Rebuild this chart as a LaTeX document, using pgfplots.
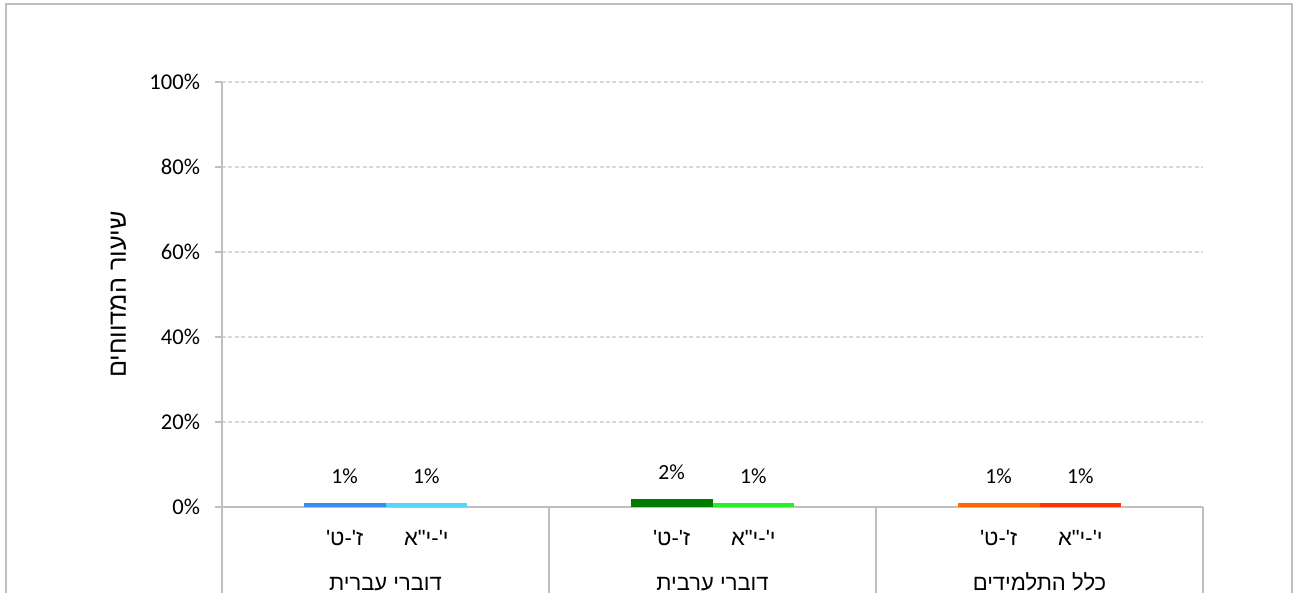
\documentclass[border=0pt]{standalone}
\usepackage{pgfplots}
\pgfplotsset{compat=1.18}
\usepackage{fontspec}
\setmainfont{Carlito}
\newfontfamily\heb[Script=Hebrew]{Liberation Sans}
\TeXXeTstate=1
\definecolor{cA}{HTML}{3B8CF0}
\definecolor{cB}{HTML}{55D6F7}
\definecolor{cC}{HTML}{007A00}
\definecolor{cD}{HTML}{2AEE2A}
\definecolor{cE}{HTML}{FF6A00}
\definecolor{cF}{HTML}{FF3300}
\definecolor{axisgray}{HTML}{BFBFBF}
\definecolor{gridgray}{HTML}{D9D9D9}
\tikzset{hebl/.style={font=\heb\fontsize{11}{13}\selectfont, anchor=base}}
\begin{document}
\begin{tikzpicture}
\path[use as bounding box] (0,0) rectangle (646.5pt,-296.5pt);
\draw[axisgray, line width=1pt] (3pt,-296.5pt) -- (3pt,-2pt) -- (646pt,-2pt) -- (646pt,-296.5pt);
\begin{axis}[
  at={(111pt,-253.5pt)}, anchor=south west,
  scale only axis, width=490.5pt, height=212.5pt,
  xmin=0, xmax=3, ymin=0, ymax=100,
  axis x line=bottom, axis y line=left,
  axis line style={draw=axisgray, line width=0.75pt, -},
  ytick={0,20,...,100},
  yticklabel={\pgfmathprintnumber{\tick}\%},
  /pgf/number format/assume math mode=true,
  xtick=\empty,
  ymajorgrids,
  grid style={gridgray, line width=0.6pt, dash pattern=on 2pt off 1.2pt},
  tick align=outside, major tick length=3.5pt,
  y tick style={axisgray, line width=0.75pt},
  ticklabel style={font=\fontsize{11.3}{13}\selectfont},
  yticklabel style={xshift=-4pt},
  clip=false,
  nodes near coords={\pgfmathprintnumber{\pgfplotspointmeta}\%},
  every node near coord/.append style={font=\fontsize{10.8}{12}\selectfont, anchor=south, yshift=6pt},
]
\addplot[ybar, bar width=0.25, bar shift=0pt, fill=cA, draw=none] coordinates {(0.375,1)};
\addplot[ybar, bar width=0.25, bar shift=0pt, fill=cB, draw=none] coordinates {(0.625,1)};
\addplot[ybar, bar width=0.25, bar shift=0pt, fill=cC, draw=none] coordinates {(1.375,2)};
\addplot[ybar, bar width=0.25, bar shift=0pt, fill=cD, draw=none] coordinates {(1.625,1)};
\addplot[ybar, bar width=0.25, bar shift=0pt, fill=cE, draw=none] coordinates {(2.375,1)};
\addplot[ybar, bar width=0.25, bar shift=0pt, fill=cF, draw=none] coordinates {(2.625,1)};
\draw[axisgray, line width=0.75pt] (axis cs:0,0) -- ([yshift=-45pt]axis cs:0,0);
\draw[axisgray, line width=0.75pt] (axis cs:1,0) -- ([yshift=-45pt]axis cs:1,0);
\draw[axisgray, line width=0.75pt] (axis cs:2,0) -- ([yshift=-45pt]axis cs:2,0);
\draw[axisgray, line width=0.75pt] (axis cs:3,0) -- ([yshift=-45pt]axis cs:3,0);
\node[hebl] at ([yshift=-19pt]axis cs:0.375,0) {\beginR ז'-ט'\endR};
\node[hebl] at ([yshift=-19pt]axis cs:0.625,0) {\beginR י'-י"א\endR};
\node[hebl] at ([yshift=-19pt]axis cs:1.375,0) {\beginR ז'-ט'\endR};
\node[hebl] at ([yshift=-19pt]axis cs:1.625,0) {\beginR י'-י"א\endR};
\node[hebl] at ([yshift=-19pt]axis cs:2.375,0) {\beginR ז'-ט'\endR};
\node[hebl] at ([yshift=-19pt]axis cs:2.625,0) {\beginR י'-י"א\endR};
\node[hebl] at ([yshift=-41.5pt]axis cs:0.5,0) {\beginR דוברי עברית\endR};
\node[hebl] at ([yshift=-41.5pt]axis cs:1.5,0) {\beginR דוברי ערבית\endR};
\node[hebl] at ([yshift=-41.5pt]axis cs:2.5,0) {\beginR כלל התלמידים\endR};
\end{axis}
\node[rotate=90, font=\heb\fontsize{12.6}{14}\selectfont] at (59.25pt,-147.25pt) {\beginR שיעור המדווחים\endR};
\end{tikzpicture}
\end{document}
